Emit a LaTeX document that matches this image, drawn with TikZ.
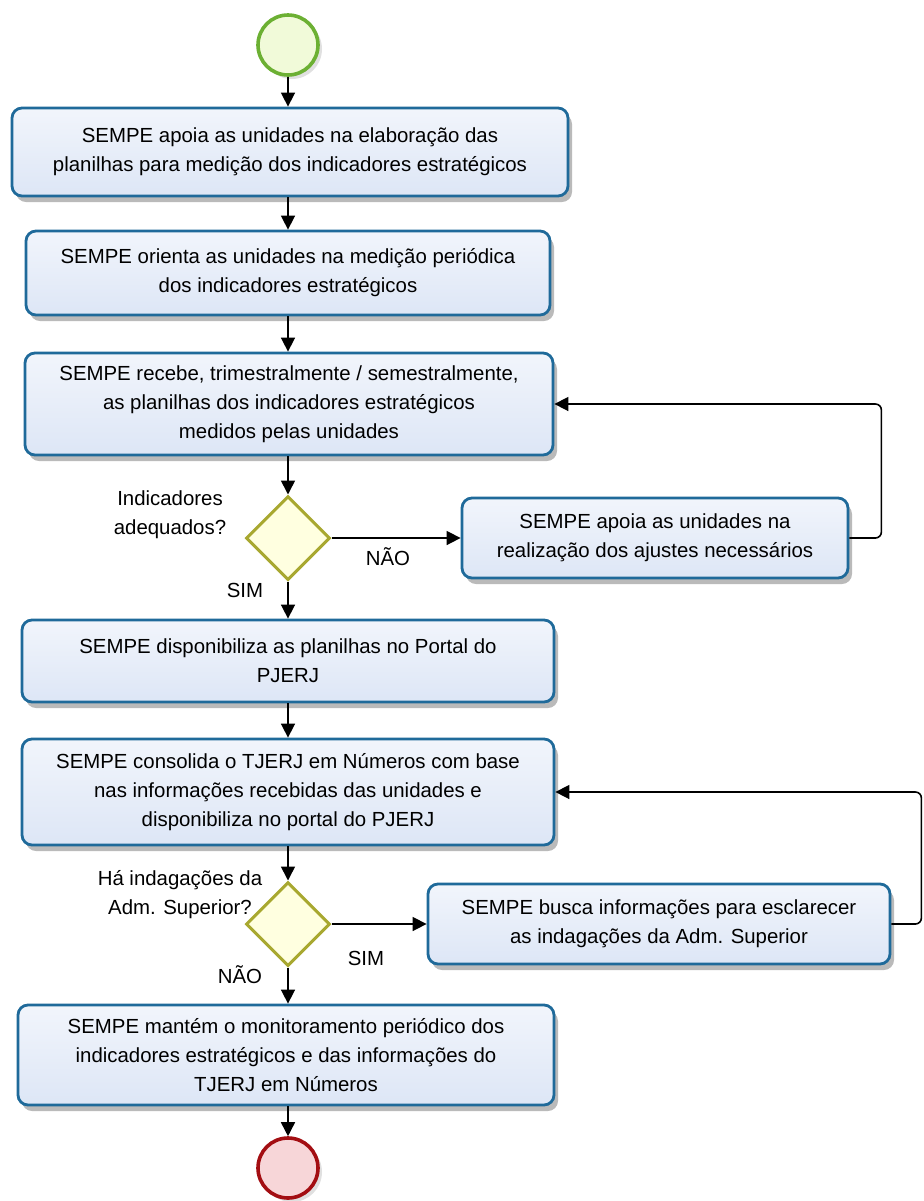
\documentclass[tikz,border=0pt]{standalone}
\usepackage{fontspec}
\setmainfont{Liberation Sans}
\usetikzlibrary{arrows.meta,shapes.geometric,shadows}
\definecolor{taskline}{HTML}{1F6A9A}
\definecolor{taskfill}{HTML}{DDE6F6}
\definecolor{gateline}{HTML}{A8A830}
\definecolor{gatefill}{HTML}{FFFFE0}
\definecolor{startline}{HTML}{6CB033}
\definecolor{startfill}{HTML}{F1FAD9}
\definecolor{endline}{HTML}{A30E12}
\definecolor{endfill}{HTML}{F7D6D8}
\tikzset{
  task/.style={draw=taskline, line width=1.4pt, rounded corners=5pt,
    top color=white!60!taskfill, bottom color=taskfill, align=center,
    font=\fontsize{10.2}{14.5}\selectfont, inner sep=0pt,
    drop shadow={shadow xshift=2pt, shadow yshift=-3pt, fill=black!45, opacity=.6}},
  gate/.style={diamond, aspect=1, minimum size=42pt, inner sep=0pt,
    draw=gateline, line width=1.5pt, fill=gatefill},
  event/.style={circle, minimum size=30pt, inner sep=0pt, line width=1.8pt,
    drop shadow={shadow xshift=2pt, shadow yshift=-2pt, fill=black!30, opacity=.4}},
  flow/.style={-{Triangle[length=7pt,width=7pt]}, line width=0.8pt},
  lbl/.style={font=\fontsize{10.2}{14.5}\selectfont, align=center}
}

\begin{document}
\begin{tikzpicture}[x=0.5pt, y=-0.5pt]
  \useasboundingbox (0,0) rectangle (924,1201);

  % start and end
  \node[event, draw=startline, fill=startfill] (start) at (288,45) {};
  \node[event, draw=endline, fill=endfill] (end) at (288,1168) {};

  % main column
  \node[task, minimum width=278pt, minimum height=44pt] (t1) at (290,152)
    {SEMPE apoia as unidades na elaboração das\\planilhas para medição dos indicadores estratégicos};
  \node[task, minimum width=262pt, minimum height=42pt] (t2) at (288,273)
    {SEMPE orienta as unidades na medição periódica\\dos indicadores estratégicos};
  \node[task, minimum width=264pt, minimum height=51pt] (t3) at (289,404)
    {SEMPE recebe, trimestralmente / semestralmente,\\as planilhas dos indicadores  estratégicos\\medidos pelas unidades};
  \node[gate] (g1) at (288,538) {};
  \node[task, minimum width=193pt, minimum height=40pt] (s1) at (655,538)
    {SEMPE apoia as unidades na\\realização dos ajustes necessários};
  \node[task, minimum width=266pt, minimum height=41pt] (t4) at (288,661)
    {SEMPE disponibiliza as planilhas no Portal do\\PJERJ};
  \node[task, minimum width=266pt, minimum height=53pt] (t5) at (288,792)
    {SEMPE consolida o TJERJ em Números com base\\nas informações recebidas das unidades e\\disponibiliza no portal do PJERJ};
  \node[gate] (g2) at (288,924) {};
  \node[task, minimum width=231pt, minimum height=40pt] (s2) at (659,924)
    {SEMPE busca informações para esclarecer\\as indagações da Adm. Superior};
  \node[task, minimum width=268pt, minimum height=50pt] (t6) at (286,1055)
    {SEMPE mantém o monitoramento periódico dos\\indicadores estratégicos e das informações do\\TJERJ em Números};

  % gate labels
  \node[lbl] (q1) at (170,515) {Indicadores\\adequados?};
  \node[lbl] (q2) at (180,895) {Há indagações da\\Adm. Superior?};
  \node[lbl] (no1) at (388,557) {NÃO};
  \node[lbl] (yes1) at (245,590) {SIM};
  \node[lbl] (yes2) at (366,958) {SIM};
  \node[lbl] (no2) at (240,975) {NÃO};

  % flows
  \draw[flow] (start) -- (start |- t1.north);
  \draw[flow] (t1.south -| start) -- (start |- t2.north);
  \draw[flow] (t2.south -| start) -- (start |- t3.north);
  \draw[flow] (t3.south -| g1) -- (g1.north);
  \draw[flow] (g1.east) -- (s1.west);
  \draw[flow, rounded corners=3pt] (s1.east) -- ++(32,0) |- (t3.east);
  \draw[flow] (g1.south) -- (g1 |- t4.north);
  \draw[flow] (t4.south -| g1) -- (g1 |- t5.north);
  \draw[flow] (t5.south -| g2) -- (g2.north);
  \draw[flow] (g2.east) -- (s2.west);
  \draw[flow, rounded corners=3pt] (s2.east) -- ++(30,0) |- (t5.east);
  \draw[flow] (g2.south) -- (g2 |- t6.north);
  \draw[flow] (t6.south -| end) -- (end.north);
\end{tikzpicture}
\end{document}
